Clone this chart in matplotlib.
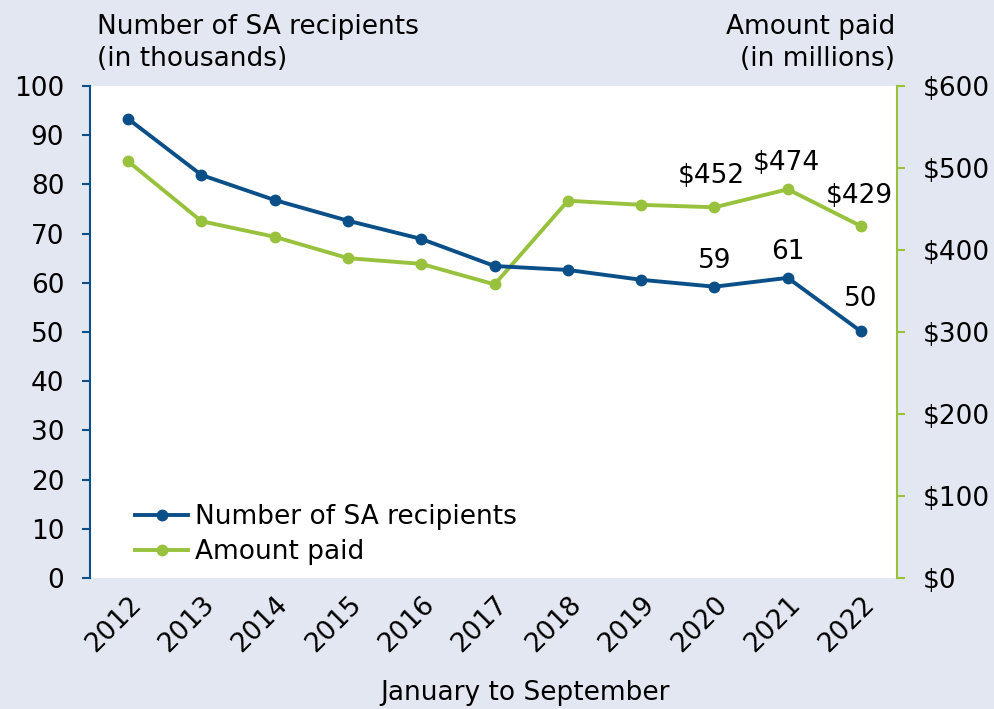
import numpy as np
import matplotlib as mpl
import matplotlib.pyplot as plt

mpl.rcParams['font.family'] = 'DejaVu Sans'
mpl.rcParams['font.size'] = 19

years = ['2012', '2013', '2014', '2015', '2016', '2017', '2018', '2019', '2020', '2021', '2022']
recipients = [93.3, 81.9, 76.8, 72.6, 68.9, 63.4, 62.6, 60.6, 59.2, 61.0, 50.1]
amount_paid = [508, 435, 416, 390, 383, 358, 460, 455, 452, 474, 429]

blue = '#0B4F88'
green = '#98C13D'
bg = '#E3E7F1'

fig = plt.figure(figsize=(9.95, 7.09), dpi=100, facecolor=bg)
ax = fig.add_axes([0.0905, 0.1848, 0.811, 0.694])
ax2 = ax.twinx()

x = np.arange(len(years))
l1, = ax.plot(x, recipients, color=blue, lw=2.8, marker='o', ms=7.5, label='Number of SA recipients')
l2, = ax2.plot(x, amount_paid, color=green, lw=2.8, marker='o', ms=7.5, label='Amount paid')

ax.set_xlim(-0.52, 10.49)
ax.set_ylim(0, 100)
ax.set_yticks(range(0, 101, 10))
ax2.set_ylim(0, 600)
ax2.set_yticks(range(0, 601, 100))
ax2.set_yticklabels(['$%d' % v for v in range(0, 601, 100)])

for a in (ax, ax2):
    a.spines['top'].set_visible(False)
    a.spines['bottom'].set_visible(False)
ax.spines['right'].set_visible(False)
ax2.spines['left'].set_visible(False)
ax.spines['left'].set_color(blue)
ax2.spines['right'].set_color(green)
ax.spines['left'].set_linewidth(1.5)
ax2.spines['right'].set_linewidth(1.5)
ax.tick_params(axis='y', colors=blue, labelcolor='black', length=6, width=1.5, labelsize=19, pad=12.5)
ax2.tick_params(axis='y', colors=green, labelcolor='black', length=6, width=1.5, labelsize=19, pad=12.5)
ax.set_xticks(x)
ax.set_xticklabels(years, rotation=45, ha='right', rotation_mode='anchor', fontsize=19)
ax.tick_params(axis='x', length=0, pad=10)

fig.text(0.528, 0.023, 'January to September', ha='center', va='center', fontsize=19)

# value labels for the last three years (offsets in points)
rec_off = {8: 13.7, 9: 13.7, 10: 18}
for i, dy in rec_off.items():
    ax.annotate('%d' % round(recipients[i]), (x[i], recipients[i]), xytext=(0, dy),
                textcoords='offset points', ha='center', va='baseline', fontsize=19)
amt_off = {8: (-2, 17.3), 9: (-1, 13.7), 10: (-1, 16.6)}
for i, (dx, dy) in amt_off.items():
    ax2.annotate('$%d' % amount_paid[i], (x[i], amount_paid[i]), xytext=(dx, dy),
                 textcoords='offset points', ha='center', va='baseline', fontsize=19)

head_y = 1 - 43 / 709
fig.text(0.097, head_y, 'Number of SA recipients\n(in thousands)', ha='left', va='center',
         fontsize=19, linespacing=1.25)
fig.text(0.900, head_y, 'Amount paid\n(in millions)', ha='right', va='center',
         fontsize=19, linespacing=1.25, multialignment='right')

ax.legend([l1, l2], ['Number of SA recipients', 'Amount paid'], loc='lower left',
          bbox_to_anchor=(0.056, 0.026), frameon=False, fontsize=19, handlelength=2.0,
          handletextpad=0.25, labelspacing=0.35, borderaxespad=0, borderpad=0)

ax.set_zorder(ax2.get_zorder() + 1)
ax.patch.set_visible(False)
ax2.patch.set_visible(True)
ax2.patch.set_facecolor('white')

fig.savefig('out.png', dpi=100, facecolor=bg)
